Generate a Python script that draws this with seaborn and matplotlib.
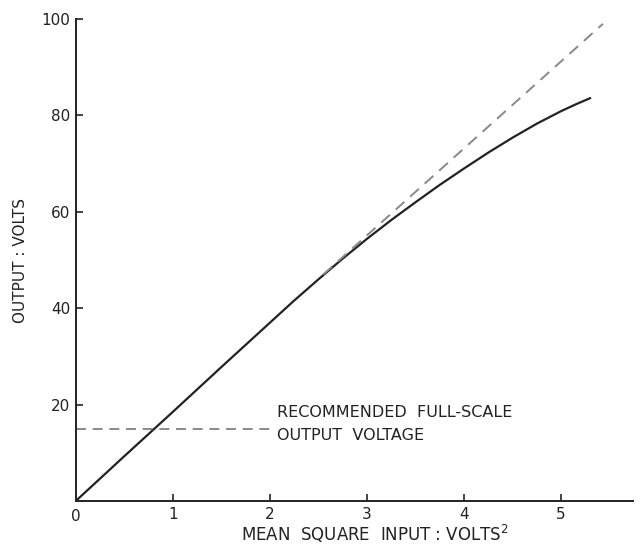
import matplotlib
matplotlib.use("Agg")
import matplotlib.pyplot as plt
import pandas as pd
import seaborn as sns

# measured response curve
input_ms = [0, 0.5, 1.0, 1.5, 2.0, 2.25, 2.5, 2.75, 3.0, 3.25, 3.5, 3.75,
            4.0, 4.25, 4.5, 4.75, 5.0, 5.15, 5.3]
output_v = [0, 9.3, 18.5, 27.8, 37.0, 41.6, 46.0, 50.3, 54.4, 58.3, 62.0, 65.6,
            69.0, 72.3, 75.4, 78.3, 80.9, 82.3, 83.6]

# ideal linear extension (dashed)
ideal_x = [2.55, 5.43]
ideal_y = [47.0, 99.0]

# recommended full-scale output level
fullscale_x = [0, 2.05]
fullscale_y = [15, 15]

x_ticks = [1, 2, 3, 4, 5]
y_ticks = [20, 40, 60, 80, 100]

sns.set_theme(style="ticks")
plt.rcParams["font.family"] = ["DejaVu Sans"]

fig = plt.figure(figsize=(6.42, 5.44), dpi=100)
ax = fig.add_axes([0.118, 0.079, 0.868, 0.886])

curve = pd.DataFrame({"x": input_ms, "y": output_v})
sns.lineplot(data=curve, x="x", y="y", ax=ax, color="#222222", linewidth=1.6)
sns.lineplot(x=ideal_x, y=ideal_y, ax=ax, color="#888888", linewidth=1.4,
             linestyle=(0, (6, 4)))
sns.lineplot(x=fullscale_x, y=fullscale_y, ax=ax, color="#777777", linewidth=1.2,
             linestyle=(0, (6, 4)))

ax.text(2.07, 18.3, "RECOMMENDED  FULL-SCALE", fontsize=11.5, color="#222222",
        va="center", ha="left")
ax.text(2.07, 13.6, "OUTPUT  VOLTAGE", fontsize=11.5, color="#222222",
        va="center", ha="left")

ax.set_xlim(0, 5.74)
ax.set_ylim(0, 100)
ax.set_xticks(x_ticks)
ax.set_yticks(y_ticks)
ax.tick_params(axis="both", direction="in", length=5, width=1.2,
               labelsize=11, colors="#222222", pad=4)
ax.text(0, -1.6, "0", fontsize=11, ha="center", va="top", color="#222222")

ax.set_xlabel("MEAN  SQUARE  INPUT : VOLTS$^2$", fontsize=12, color="#222222")
ax.xaxis.set_label_coords(0.537, -0.045)
ax.set_ylabel("OUTPUT : VOLTS", fontsize=11, color="#222222")
ax.yaxis.set_label_coords(-0.085, 0.5)

sns.despine(ax=ax)
for side in ["left", "bottom"]:
    ax.spines[side].set_linewidth(1.4)
    ax.spines[side].set_color("#222222")

fig.savefig("out.png", dpi=100)
